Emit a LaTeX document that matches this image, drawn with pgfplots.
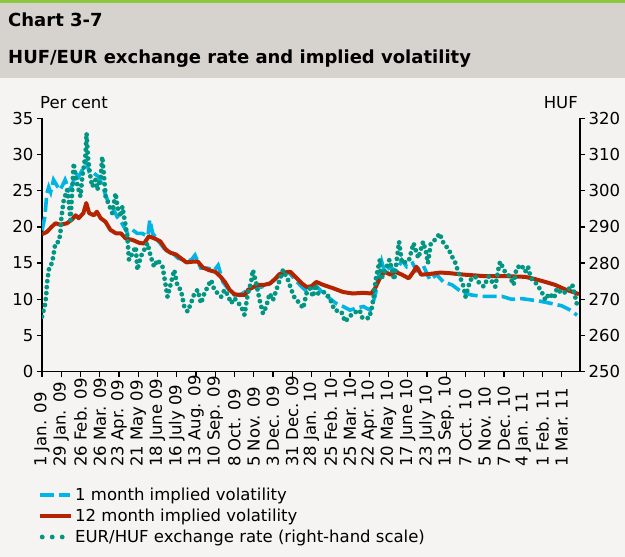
\documentclass[border=0pt]{standalone}
\usepackage{pgfplots}
\pgfplotsset{compat=1.18}
\usepackage{fontspec}
\setmainfont{DejaVu Sans}
\definecolor{bgcol}{RGB}{245,244,242}
\definecolor{headcol}{RGB}{214,210,206}
\definecolor{topgreen}{RGB}{141,198,63}
\definecolor{volblue}{RGB}{0,180,230}
\definecolor{volred}{RGB}{180,36,0}
\definecolor{fxgreen}{RGB}{0,150,130}
\newcommand\xl[1]{\makebox[89pt][l]{#1}}

\pgfplotstableread{
day v
0 19.5
3 21.4
5 24.6
7 25.5
9 24.8
12 26.5
16 25.6
19 25.1
24 26.5
28 25.1
31 25.6
35 27.4
38 26.9
42 27.9
46 29.0
49 27.6
54 27.4
59 26.9
63 25.6
68 23.7
73 22.8
78 21.4
83 20.5
89 19.1
94 19.6
99 19.1
104 19.1
110 18.7
112 21.0
115 19.1
120 18.2
127 17.0
134 16.6
141 15.7
148 15.4
155 15.4
159 16.1
165 14.3
172 14.3
179 14.0
183 14.7
188 12.4
193 11.5
200 10.6
207 10.7
214 11.3
221 11.7
228 11.7
235 12.0
242 12.7
249 13.6
256 13.8
263 12.7
270 11.7
275 11.1
280 11.5
285 11.8
292 10.9
299 10.1
306 9.4
313 9.0
320 8.5
327 8.8
334 9.0
341 8.5
346 10.4
349 12.7
353 15.2
356 13.8
362 14.5
368 13.8
374 15.4
379 14.5
385 15.0
389 14.0
396 14.7
403 12.7
410 13.4
417 12.4
426 12.0
436 11.0
446 10.6
457 10.4
467 10.4
478 10.4
488 10.0
498 10.1
509 9.9
519 9.7
530 9.4
540 9.1
549 8.5
556 7.8
}\onemonth

\pgfplotstableread{
day v
0 19.0
5 19.3
10 20.0
14 20.5
19 20.3
26 20.5
31 21.0
35 21.6
38 21.2
43 21.9
46 23.3
49 21.9
54 21.6
57 22.1
61 21.2
66 20.7
71 19.6
77 19.1
82 19.1
87 18.4
94 18.2
101 17.8
106 17.7
111 18.7
117 18.4
123 18.0
129 16.8
134 16.4
139 16.2
144 15.7
150 15.1
157 15.2
162 15.2
167 14.4
174 14.0
180 13.8
185 13.2
190 12.4
195 11.3
200 10.7
205 10.6
211 10.6
214 11.3
218 11.6
224 12.0
231 12.0
237 12.2
242 12.8
247 13.5
252 13.7
258 13.8
264 13.0
270 12.2
275 11.7
280 11.8
285 12.4
292 12.0
303 11.5
313 11.0
323 10.8
334 10.9
342 10.8
346 11.5
351 12.9
356 13.8
362 13.4
367 13.8
374 13.4
381 12.9
386 13.8
389 14.5
394 13.4
403 13.5
414 13.7
424 13.6
439 13.4
460 13.2
481 13.2
502 13.1
512 12.8
523 12.4
533 12.0
543 11.4
554 10.9
558 10.7
}\twelvemonth

\pgfplotstableread{
day huf
0 265.2
1.7 267.0
3.5 268.9
4.5 271.6
5.2 274.4
7 278.1
8.7 279.5
10.4 279.9
12.2 282.7
13.9 285.5
17.4 285.9
19.1 288.2
20.2 292.8
22.6 297.4
26.1 300.2
27.8 297.0
29.6 291.9
33 307.6
34.8 303.9
37.2 301.1
40 298.4
41.7 303.4
43.5 306.7
45.2 309.9
46.3 315.9
47.7 309.4
49.7 304.8
52.2 301.1
55.7 303.0
57.4 300.2
60.9 303.4
62.6 309.4
64.3 304.4
66.1 298.4
69.6 296.1
73 293.8
76.5 299.3
78.3 295.6
81.7 292.8
83.5 295.6
85.9 291.9
88.7 287.3
90.4 280.9
93.9 282.7
97.4 284.5
99.1 278.1
102.6 281.8
106.1 283.6
109.6 285.5
113 281.8
116.5 279.0
120 280.9
125.2 279.0
127 276.3
130.4 270.7
133.9 274.4
137.4 278.1
140.9 273.5
144.3 272.6
147.8 268.0
151.3 266.6
154.8 268.9
158.3 271.6
161.7 272.6
165.2 268.9
168.7 271.6
172.2 273.5
175.7 275.3
179.1 272.6
186.1 270.7
189.6 272.6
193 271.2
196.5 268.9
200 270.3
207 268.0
210.4 265.7
213.9 271.6
217.4 274.9
219.1 278.1
222.6 274.4
226.1 269.8
229.6 266.1
233 268.0
236.5 271.6
240 269.8
243.5 272.6
247 275.3
250.4 278.1
255.7 275.3
259.1 272.6
262.6 270.3
267.8 268.9
271.3 267.5
274.8 271.6
278.3 273.0
281.7 270.7
284 274.0
287 271.6
294 272.0
299 270.3
304 267.0
311 266.6
315 263.8
318 264.8
323 266.1
330 267.0
333 264.8
340 264.8
343 268.0
345 271.6
347 275.8
351 280.9
352 275.4
357 278.1
361 280.9
366 275.4
371 285.9
374 280.0
381 280.5
386 285.5
391 281.4
396 285.9
399 283.1
401 280.0
404 285.5
410 286.8
413 288.2
418 285.0
422 284.1
426 281.8
429 280.4
433 277.2
438 273.5
440 270.7
445 275.3
450 276.3
453 274.9
459 273.5
464 276.3
471 273.5
474 278.1
476 280.4
481 277.6
486 276.3
490 274.0
493 278.6
498 279.5
502 277.6
505 279.0
508 275.8
512 274.9
517 273.0
520 271.6
523 269.8
527 271.6
532 270.3
535 273.0
540 271.6
545 272.1
551 274.0
554 270.7
556 268.4
}\fxrate

\tikzset{
  bluestyle/.style={volblue, line width=3.6pt, dash pattern=on 14pt off 5pt},
  redstyle/.style={volred, line width=4pt, line join=round},
  greenstyle/.style={fxgreen, line width=4.8pt, line cap=round, dash pattern=on 0pt off 6pt}
}
\pgfplotsset{
  common/.style={
    at={(42pt,185.3pt)}, anchor=south west,
    scale only axis, width=538pt, height=253.4pt,
    xmin=0, xmax=559,
    /pgf/number format/assume math mode=true,
    ticklabel style={font=\fontsize{16.5}{19}\selectfont, black},
    axis line style={line width=1.6pt, black},
    tick style={line width=1.3pt, black},
    major tick length=5pt,
    tick align=outside,
  }
}

\begin{document}
\begin{tikzpicture}[x=1pt,y=1pt]
\path[use as bounding box] (0,0) rectangle (625,557);
\fill[bgcol] (0,0) rectangle (625,479);
\fill[headcol] (0,479) rectangle (625,554);
\fill[topgreen] (0,554) rectangle (625,557);
\node[anchor=west, inner sep=0pt, font=\bfseries\fontsize{18}{21}\selectfont] at (8,537) {Chart 3-7};
\node[anchor=west, inner sep=0pt, font=\bfseries\fontsize{18}{21}\selectfont] at (8,498) {HUF/EUR exchange rate and implied volatility};
\node[anchor=west, inner sep=0pt, font=\fontsize{16.5}{19}\selectfont] at (40,454) {Per cent};
\node[anchor=east, inner sep=0pt, font=\fontsize{16.5}{19}\selectfont] at (578,454) {HUF};

\begin{axis}[common,
  ymin=0, ymax=35, ytick={0,5,...,35},
  axis x line*=bottom, axis y line*=left,
  xtick={0,20,...,540},
  xticklabels={\xl{1 Jan. 09},\xl{29 Jan. 09},\xl{26 Feb. 09},\xl{26 Mar. 09},\xl{23 Apr. 09},\xl{21 May 09},\xl{18 June 09},\xl{16 July 09},\xl{13 Aug. 09},\xl{10 Sep. 09},\xl{8 Oct. 09},\xl{5 Nov. 09},\xl{3 Dec. 09},\xl{31 Dec. 09},\xl{28 Jan. 10},\xl{25 Feb. 10},\xl{25 Mar. 10},\xl{22 Apr. 10},\xl{20 May 10},\xl{17 June 10},\xl{23 July 10},\xl{13 Sep. 10},\xl{7 Oct. 10},\xl{5 Nov. 10},\xl{7 Dec. 10},\xl{4 Jan. 11},\xl{1 Feb. 11},\xl{1 Mar. 11}},
  xticklabel style={rotate=90, anchor=east, inner sep=1pt},
  legend style={at={(axis description cs:-0.0074,-0.45)}, anchor=north west, draw=none, fill=none,
    font=\fontsize{16.5}{19}\selectfont, inner xsep=0pt, inner ysep=0pt, row sep=3pt,
    /tikz/every even column/.append style={column sep=0pt}},
  legend cell align=left,
]
\addplot[bluestyle, legend image code/.code={\draw[bluestyle] (0pt,0pt) -- (30pt,0pt);}] table[x=day,y=v] {\onemonth};
\addlegendentry{1 month implied volatility}
\addplot[redstyle, legend image code/.code={\draw[redstyle] (0pt,0pt) -- (31pt,0pt);}] table[x=day,y=v] {\twelvemonth};
\addlegendentry{12 month implied volatility}
\addlegendimage{greenstyle, legend image code/.code={\draw[greenstyle, dash pattern=on 0pt off 10pt] (2pt,0pt) -- (23pt,0pt);}}
\addlegendentry{EUR/HUF exchange rate (right-hand scale)}
\end{axis}

\begin{axis}[common,
  ymin=250, ymax=320, ytick={250,260,...,320},
  axis y line*=right, axis x line=none,
]
\addplot[greenstyle] table[x=day,y=huf] {\fxrate};
\end{axis}
\end{tikzpicture}
\end{document}
